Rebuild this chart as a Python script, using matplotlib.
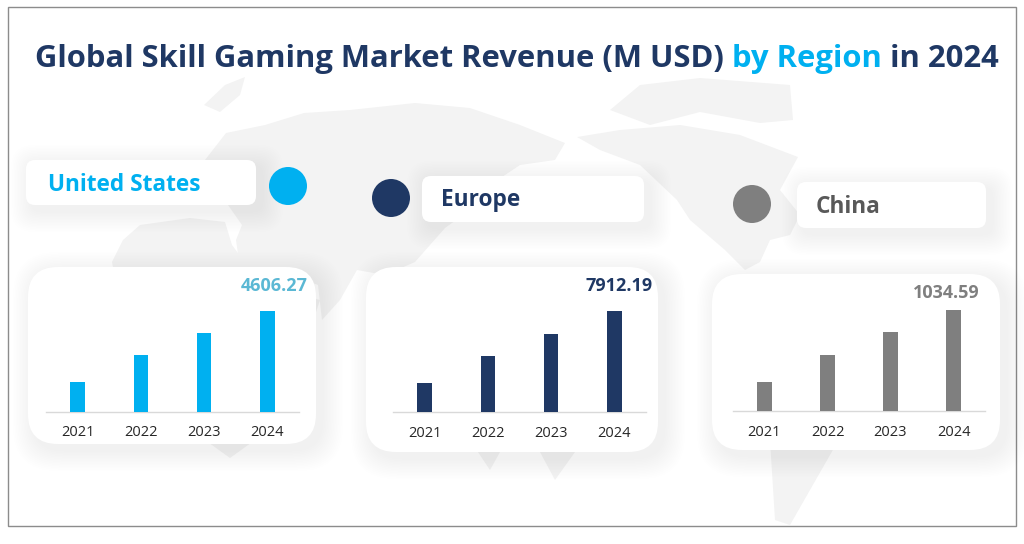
import matplotlib
matplotlib.use("Agg")
import matplotlib.pyplot as plt
from matplotlib.patches import FancyBboxPatch, Circle, Polygon, Rectangle

years = ["2021", "2022", "2023", "2024"]
us_values = [1345, 2577, 3589, 4606.27]
europe_values = [2294, 4352, 6148, 7912.19]
china_values = [294, 573, 806, 1034.59]
region_names = ["United States", "Europe", "China"]
value_labels = ["4606.27", "7912.19", "1034.59"]

W, H = 1024, 544
plt.rcParams["font.family"] = "Open Sans"
fig = plt.figure(figsize=(W / 100, H / 100), dpi=100)
bg = fig.add_axes([0, 0, 1, 1])
bg.set_xlim(0, W)
bg.set_ylim(H, 0)
bg.axis("off")

bg.add_patch(Rectangle((7.5, 6.5), 1008, 519, fc="white", ec="#8c8c8c", lw=1))

# rough world map behind everything
land = [
    [(185, 195), (205, 160), (226, 133), (265, 125), (304, 113), (350, 110), (415, 103), (470, 108), (520, 125), (565, 143), (555, 160), (520, 165), (490, 185), (470, 210), (445, 228), (430, 245), (415, 262), (385, 275), (357, 270), (340, 300), (322, 320), (318, 285), (280, 270), (240, 268), (236, 240), (242, 225), (228, 205), (200, 205)],
    [(112, 262), (123, 240), (140, 225), (190, 218), (225, 222), (232, 245), (262, 285), (320, 300), (300, 360), (290, 400), (255, 440), (230, 458), (205, 440), (185, 370), (125, 330)],
    [(204, 105), (225, 85), (245, 77), (240, 95), (220, 112)],
    [(610, 110), (640, 85), (700, 78), (790, 85), (793, 120), (760, 123), (700, 112), (650, 125)],
    [(577, 137), (620, 130), (680, 125), (740, 135), (798, 157), (780, 190), (800, 215), (790, 235), (770, 240), (760, 262), (745, 270), (725, 250), (690, 220), (677, 200), (640, 165), (600, 150)],
    [(760, 285), (815, 290), (860, 350), (850, 420), (810, 490), (790, 525), (775, 520), (770, 440), (745, 350)],
    [(478, 452), (500, 452), (490, 470)],
    [(540, 452), (575, 452), (555, 480)],
]
for pts in land:
    bg.add_patch(Polygon(pts, closed=True, fc="#f3f3f3", ec="none", zorder=1))


def card(x, y, w, h, r):
    # stacked faint boxes make the soft shadow
    for i in range(14, 0, -1):
        bg.add_patch(FancyBboxPatch((x + 6, y + 6), w, h, boxstyle=f"round,pad={i * 1.5},rounding_size={r + i}",
                                    fc="black", ec="none", alpha=0.004, zorder=2))
    bg.add_patch(FancyBboxPatch((x, y), w, h, boxstyle=f"round,pad=0,rounding_size={r}",
                                fc="white", ec="none", zorder=3))


panels = [
    (us_values, "#00b0f0", "#5bb8d4", (26, 160, 230, 45), (288, 186), (48, 185, "#00b0f0"), (28, 267, 288, 177), [46, 299, 411.5], 308),
    (europe_values, "#1f3864", "#1f3864", (422, 176, 222, 46), (391, 198), (441, 200, "#1f3864"), (366, 267, 292, 185), [393, 646, 412], 653),
    (china_values, "#7f7f7f", "#7f7f7f", (797, 182, 189, 46), (752, 204), (816, 207, "#595959"), (712, 274, 288, 176), [733, 985, 411], 980),
]

for (vals, col, val_col, label_box, dot, name_pos, chart_box, axis_pos, val_x), name, vlab in zip(panels, region_names, value_labels):
    card(*label_box, 9)
    card(*chart_box, 30)
    bg.add_patch(Circle(dot, 19, fc=col, ec="none", zorder=4))
    bg.text(name_pos[0], name_pos[1], name, color=name_pos[2], fontsize=16.3, fontweight="bold", va="center", ha="left", zorder=5)

    left, right, base = axis_pos
    ax_top = base - 112
    ax = fig.add_axes([left / W, 1 - base / H, (right - left) / W, (base - ax_top) / H], zorder=6)
    ax.patch.set_alpha(0)
    ax.bar(range(4), vals, width=0.23, color=col, zorder=3)
    ax.set_xlim(-0.5, 3.5)
    ax.set_ylim(0, vals[-1] * 112 / 101)
    ax.set_yticks([])
    ax.set_xticks(range(4), years, fontsize=10.5, color="#262626")
    ax.tick_params(axis="x", length=0, pad=10)
    for s in ["top", "left", "right"]:
        ax.spines[s].set_visible(False)
    ax.spines["bottom"].set_color("#d9d9d9")
    ax.spines["bottom"].set_linewidth(1)
    bg.text(val_x, chart_box[1] + 19, vlab, color=val_col, fontsize=13, fontweight="bold", ha="right", va="center", zorder=5)

# title has one blue part, so it is placed in pieces
x = 35
for part, c in [("Global Skill Gaming Market Revenue (M USD) ", "#1f3864"), ("by Region", "#00b0f0"), (" in 2024", "#1f3864")]:
    bg.text(x, 59, part, color=c, fontsize=22.33, fontweight="bold", va="center", ha="left", zorder=5)
    fig.canvas.draw()
    tb = bg.text(0, 0, part.replace(" ", "\u00a0"), fontsize=22.33, fontweight="bold", alpha=0)
    x += tb.get_window_extent().width
    tb.remove()

fig.savefig("out.png", dpi=100)
